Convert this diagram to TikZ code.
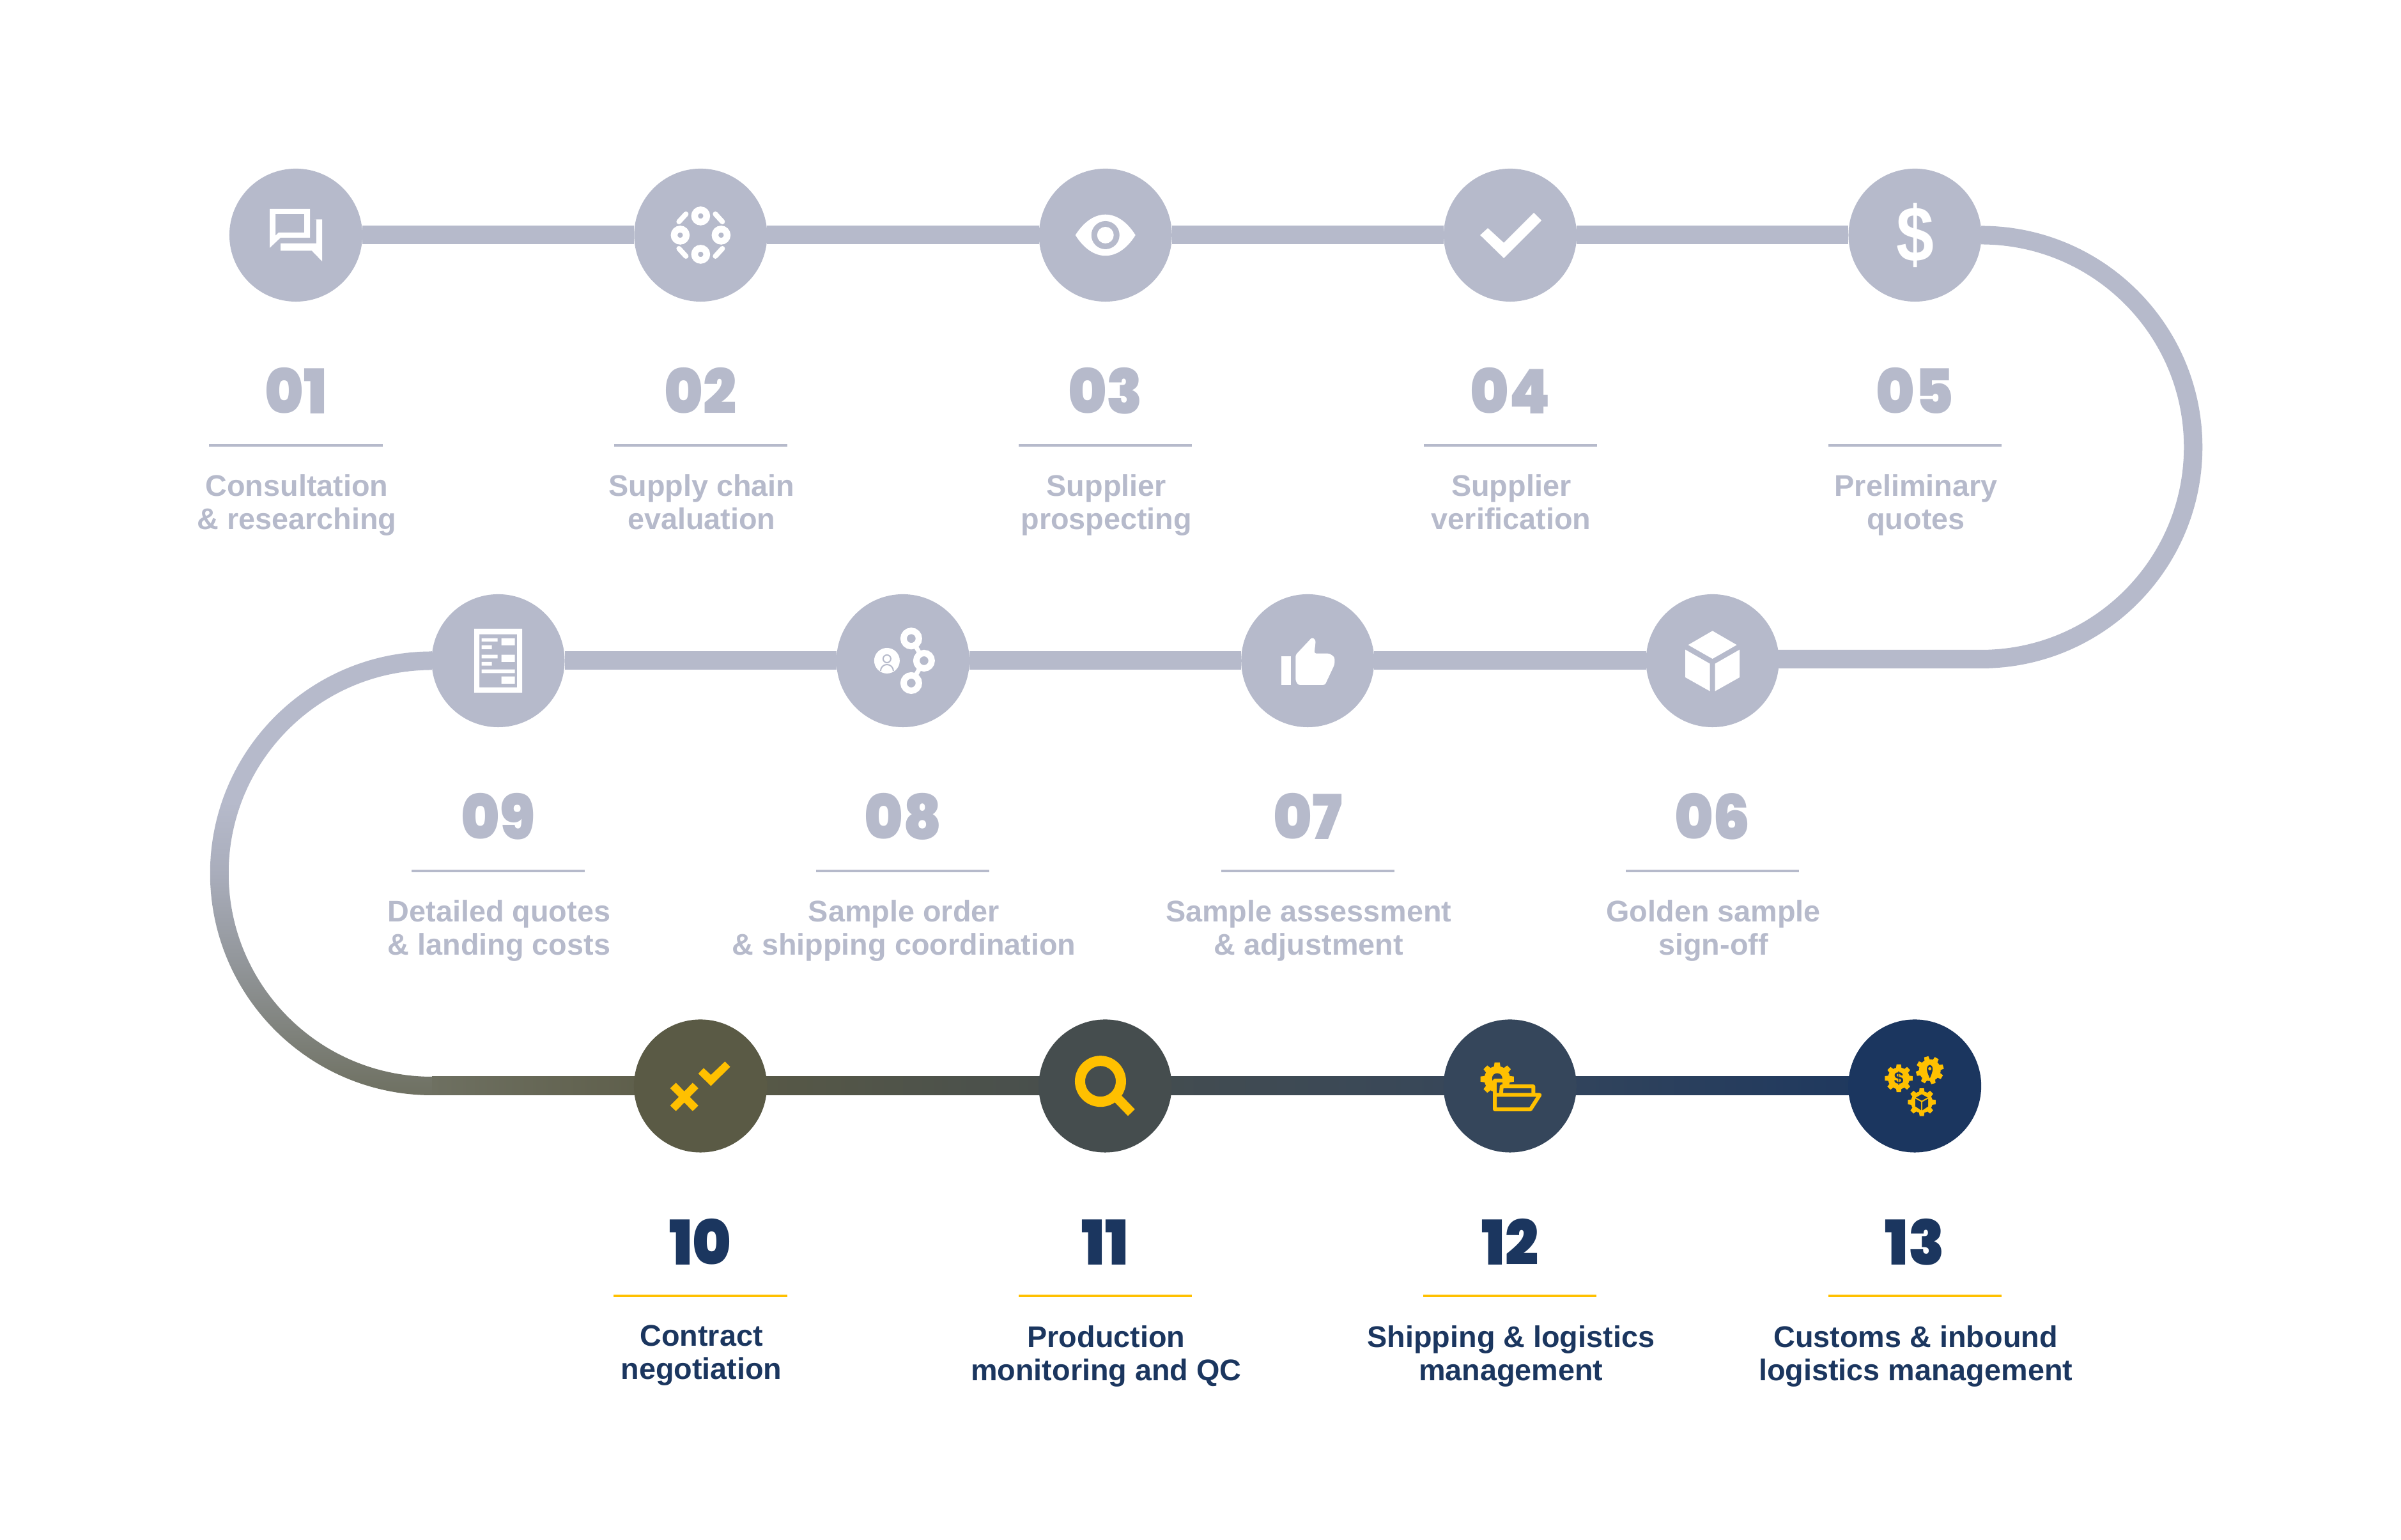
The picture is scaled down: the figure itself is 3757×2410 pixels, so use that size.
\documentclass[tikz,border=0pt]{standalone}
\usepackage{fontspec}
\usepackage{tikz}
\usetikzlibrary{positioning,calc,backgrounds}
\setmainfont{Liberation Sans}
\newfontfamily\numfont{Poppins Black}[FakeStretch=0.95]

\definecolor{mist}{HTML}{B6BACB}
\definecolor{navy}{HTML}{1B365F}
\definecolor{amber}{HTML}{FFC000}
\definecolor{stoneA}{HTML}{6E7061}
\definecolor{stoneB}{HTML}{92969A}
\definecolor{stoneC}{HTML}{A9ADBB}
\definecolor{oliveA}{HTML}{5A5A45}
\definecolor{slateA}{HTML}{454D4E}
\definecolor{slateB}{HTML}{35465B}

\pgfdeclareverticalshading{trackbend}{100bp}{color(0bp)=(stoneA); color(25bp)=(stoneA); color(40bp)=(stoneB); color(50bp)=(stoneC); color(58bp)=(mist); color(100bp)=(mist)}

\tikzset{
  stepdot/.style={circle, minimum size=2.08cm, inner sep=0pt, outer sep=0pt, fill=mist},
  stepnum/.style={font=\numfont\fontsize{27.5}{28}\selectfont, inner sep=0pt, text height=0.66cm, text depth=0pt, text=mist},
  steprule/.style={minimum width=2.71cm, minimum height=0.04cm, inner sep=0pt, fill=mist},
  steptext/.style={font=\bfseries\fontsize{13.3}{14.8}\selectfont, inner sep=0pt, align=center, text=mist, xshift=0.015cm},
  track/.style={line width=0.29cm, mist},
  lastnum/.style={stepnum, text=navy},
  lastrule/.style={steprule, fill=amber},
  lasttext/.style={steptext, text=navy},
  pics/gearicon/.style={code={
    \fill[amber] (0,0) circle (17);
    \foreach \a in {0,45,...,315}
      \fill[amber] (\a-17:15) -- (\a-9:22) -- (\a+9:22) -- (\a+17:15) -- cycle;
  }}
}

\begin{document}
\begin{tikzpicture}[x=0.01cm, y=0.01cm]
\useasboundingbox (0,0) rectangle (3757,2410);

% first row
\node[stepdot] (c01) at (463,2042) {};
\node[stepdot, right=4.25cm of c01] (c02) {};
\node[stepdot, right=4.25cm of c02] (c03) {};
\node[stepdot, right=4.25cm of c03] (c04) {};
\node[stepdot, right=4.25cm of c04] (c05) {};
% second row
\node[stepdot] (c09) at (779.5,1376) {};
\node[stepdot, right=4.25cm of c09] (c08) {};
\node[stepdot, right=4.25cm of c08] (c07) {};
\node[stepdot, right=4.25cm of c07] (c06) {};
% third row
\node[stepdot, fill=oliveA] (c10) at (1096,710.5) {};
\node[stepdot, fill=slateA, right=4.25cm of c10] (c11) {};
\node[stepdot, fill=slateB, right=4.25cm of c11] (c12) {};
\node[stepdot, fill=navy, right=4.25cm of c12] (c13) {};

\coordinate (turnR1) at (3100,2042);
\coordinate (turnR2) at (3100,1378.5);
\coordinate (turnL1) at (676,1376);
\coordinate (turnL2) at (676,710.5);

% track
\begin{scope}[on background layer]
\draw[track] (c01) -- (c02);
\draw[track] (c02) -- (c03);
\draw[track] (c03) -- (c04);
\draw[track] (c04) -- (c05);
\draw[track] (c05) -- (turnR1) arc[start angle=90, end angle=-90, radius=331.75] -- (turnR2 -| c06);
\draw[track] (c06) -- (c07);
\draw[track] (c07) -- (c08);
\draw[track] (c08) -- (c09);
\draw[track] (c09) -- (turnL1);
\shade[shading=trackbend]
  ($(turnL1)+(0,14.5)$) arc[start angle=90, end angle=270, radius=347.25]
  -- ++(0,29) arc[start angle=270, end angle=90, radius=318.25] -- cycle;
\shade[left color=stoneA, right color=oliveA] ($(turnL2)+(0,-14.5)$) rectangle ($(c10.center)+(0,14.5)$);
\shade[left color=oliveA, right color=slateA] ($(c10.center)+(0,-14.5)$) rectangle ($(c11.center)+(0,14.5)$);
\shade[left color=slateA, right color=slateB] ($(c11.center)+(0,-14.5)$) rectangle ($(c12.center)+(0,14.5)$);
\shade[left color=slateB, right color=navy] ($(c12.center)+(0,-14.5)$) rectangle ($(c13.center)+(0,14.5)$);
\end{scope}

% numbers
\node[stepnum, below=1.09cm of c01] (n01) {01};
\node[stepnum, below=1.09cm of c02] (n02) {02};
\node[stepnum, below=1.09cm of c03] (n03) {03};
\node[stepnum, below=1.09cm of c04] (n04) {04};
\node[stepnum, below=1.09cm of c05] (n05) {05};
\node[stepnum, below=1.09cm of c06] (n06) {06};
\node[stepnum, below=1.09cm of c07] (n07) {07};
\node[stepnum, below=1.09cm of c08] (n08) {08};
\node[stepnum, below=1.09cm of c09] (n09) {09};
\node[lastnum, below=1.09cm of c10] (n10) {10};
\node[lastnum, below=1.09cm of c11] (n11) {11};
\node[lastnum, below=1.09cm of c12] (n12) {12};
\node[lastnum, below=1.09cm of c13] (n13) {13};

% rules
\node[steprule, below=0.455cm of n01] (r01) {};
\node[steprule, below=0.455cm of n02] (r02) {};
\node[steprule, below=0.455cm of n03] (r03) {};
\node[steprule, below=0.455cm of n04] (r04) {};
\node[steprule, below=0.455cm of n05] (r05) {};
\node[steprule, below=0.455cm of n06] (r06) {};
\node[steprule, below=0.455cm of n07] (r07) {};
\node[steprule, below=0.455cm of n08] (r08) {};
\node[steprule, below=0.455cm of n09] (r09) {};
\node[lastrule, below=0.455cm of n10] (r10) {};
\node[lastrule, below=0.455cm of n11] (r11) {};
\node[lastrule, below=0.455cm of n12] (r12) {};
\node[lastrule, below=0.455cm of n13] (r13) {};

% captions
\node[steptext, below=0.425cm of r01] (t01) {Consultation\\\& researching};
\node[steptext, below=0.425cm of r02] (t02) {Supply chain\\evaluation};
\node[steptext, below=0.425cm of r03] (t03) {Supplier\\prospecting};
\node[steptext, below=0.425cm of r04] (t04) {Supplier\\verification};
\node[steptext, below=0.425cm of r05] (t05) {Preliminary\\quotes};
\node[steptext, below=0.425cm of r06] (t06) {Golden sample\\sign-off};
\node[steptext, below=0.425cm of r07] (t07) {Sample assessment\\\& adjustment};
\node[steptext, below=0.425cm of r08] (t08) {Sample order\\\& shipping coordination};
\node[steptext, below=0.425cm of r09] (t09) {Detailed quotes\\\& landing costs};
\node[lasttext, below=0.425cm of r10] (t10) {Contract\\negotiation};
\node[lasttext, below=0.425cm of r11] (t11) {Production\\monitoring and QC};
\node[lasttext, below=0.425cm of r12] (t12) {Shipping \& logistics\\management};
\node[lasttext, below=0.425cm of r13] (t13) {Customs \& inbound\\logistics management};

% icon 01, two speech bubbles
\begin{scope}[shift={(c01.center)}]
\fill[white, even odd rule] (-41,41) -- (22,41) -- (22,-4) -- (-24,-4) -- (-41,-20) -- cycle
  (-32,33) -- (13,33) -- (13,4) -- (-27,4) -- (-32,-1) -- cycle;
\fill[white] (29,24.5) -- (41,24.5) -- (41,-41) -- (25,-24.5) -- (-24,-24.5) -- (-24,-13) -- (32,-13) -- (32,24.5) -- cycle;
\end{scope}

% icon 02, ring of rings
\begin{scope}[shift={(c02.center)}]
\draw[white, line width=0.105cm] (0,30) circle (9.5) (0,-30) circle (9.5) (-32,0) circle (9.5) (32,0) circle (9.5);
\draw[white, line width=0.08cm, line cap=round] (-34,21) -- (-23,33) (34,21) -- (23,33) (-34,-21) -- (-23,-33) (34,-21) -- (23,-33);
\end{scope}

% icon 03, eye
\begin{scope}[shift={(c03.center)}]
\fill[white] (-47,0) .. controls (-20,43) and (20,43) .. (47,0) .. controls (20,-43) and (-20,-43) .. (-47,0) -- cycle;
\fill[mist] (0,0) circle (22);
\fill[white] (0,0) circle (13);
\end{scope}

% icon 04, check mark
\begin{scope}[shift={(c04.center)}]
\fill[white] (37,35) -- (49,23) -- (-10,-36) -- (-47,0) -- (-35,11) -- (-10,-12) -- cycle;
\end{scope}

% icon 05, dollar
\node[text=white, font=\bfseries\fontsize{35}{35}\selectfont, inner sep=0pt] (d05) at (c05.center) {\scalebox{0.86}[1]{\$}};

% icon 06, open box
\begin{scope}[shift={(c06.center)}]
\fill[white] (0,46.7) -- (38,24.7) -- (0,3) -- (-38,24.7) -- cycle;
\fill[white] (-42.5,17.3) -- (-4,-4.7) -- (-4,-47.7) -- (-42.5,-26) -- cycle;
\fill[white] (42.5,17.3) -- (4,-4.7) -- (4,-47.7) -- (42.5,-26) -- cycle;
\end{scope}

% icon 07, thumb up
\begin{scope}[shift={(c07.center)}]
\fill[white] (-41.3,7.3) rectangle (-26.4,-38);
\fill[white, rounded corners=0.03cm] (-19,9) -- (7,36.7) -- (12.6,32) -- (10.3,11.3) -- (34,11.3) -- (42,5.7) -- (42,-6) -- (27,-38) -- (-15,-38) -- (-19,-31) -- cycle;
\end{scope}

% icon 08, linked rings and a person
\begin{scope}[shift={(c08.center)}]
\draw[white, line width=0.07cm] (13,34.7) -- (33,0) -- (13,-35);
\draw[white, line width=0.1cm, fill=mist] (13,34.7) circle (12) (33,0) circle (12) (13,-35) circle (12);
\fill[white] (-25,0) circle (20);
\draw[mist, line width=0.02cm] (-25,3) circle (6);
\draw[mist, line width=0.02cm] (-35,-16) arc[start angle=180, end angle=0, radius=10];
\end{scope}

% icon 09, document
\begin{scope}[shift={(c09.center)}]
\fill[white, even odd rule] (-37.5,50) rectangle (37.5,-50) (-29.5,41.3) rectangle (29.5,-41.7);
\fill[white] (-26,35) rectangle (-1,30) (5,35) rectangle (26,24) (-26,24) rectangle (-10,18)
  (-26,9.3) rectangle (-1,3.7) (5,9.3) rectangle (26,-2) (-26,-2) rectangle (-10,-7.7)
  (-26,-13.7) rectangle (26,-19.3) (5,-24.7) rectangle (26,-36);
\end{scope}

% icon 10, cross and check
\begin{scope}[shift={(c10.center)}]
\draw[amber, line width=0.123cm] (-42.8,0.7) -- (-7.7,-35) (-7.7,0.7) -- (-42.8,-35);
\fill[amber] (38.4,38.3) -- (46.6,30) -- (16.4,0) -- (-3.3,19.3) -- (5,28) -- (16.4,17.3) -- cycle;
\end{scope}

% icon 11, magnifier
\begin{scope}[shift={(c11.center)}]
\draw[amber, line width=0.16cm] (-7.4,7.3) circle (32);
\draw[amber, line width=0.15cm] (20,-20) -- (41,-41.7);
\end{scope}

% icon 12, gear and folder
\begin{scope}[shift={(c12.center)}]
\pic[scale=1.2] at (-20,10.7) {gearicon};
\fill[slateB] (-20,12) circle (8);
\draw[amber, line width=0.06cm, fill=slateB, line join=round] (-23.6,-14) -- (-23.6,8) -- (-8.5,8) -- (-8.5,-14);
\draw[amber, line width=0.06cm, fill=slateB, line join=round] (-14,-13) -- (-13,-0.7) -- (36.5,-0.7) -- (36.5,-13);
\draw[amber, line width=0.06cm, fill=slateB, line join=round] (-23.6,-14) -- (46.6,-14) -- (32,-36.7) -- (-23.6,-36.7) -- cycle;
\end{scope}

% icon 13, three gears
\begin{scope}[shift={(c13.center)}]
\pic at (-25,12) {gearicon};
\pic[rotate=15] at (23.6,24.7) {gearicon};
\pic at (11,-25.3) {gearicon};
\node[text=navy, font=\bfseries\fontsize{7.5}{8}\selectfont, inner sep=0pt] (d13) at (-25,12) {\$};
\fill[navy] (23.6,12) .. controls (18,24) and (17,31) .. (23.6,33) .. controls (30,31) and (29,24) .. (23.6,12) -- cycle;
\fill[amber] (23.6,27) circle (2.5);
\fill[navy] (11,-13) -- (20,-18) -- (11,-23) -- (2,-18) -- cycle
  (1,-20) -- (10,-25) -- (10,-38) -- (1,-32) -- cycle (21,-20) -- (12,-25) -- (12,-38) -- (21,-32) -- cycle;
\end{scope}
\end{tikzpicture}
\end{document}
